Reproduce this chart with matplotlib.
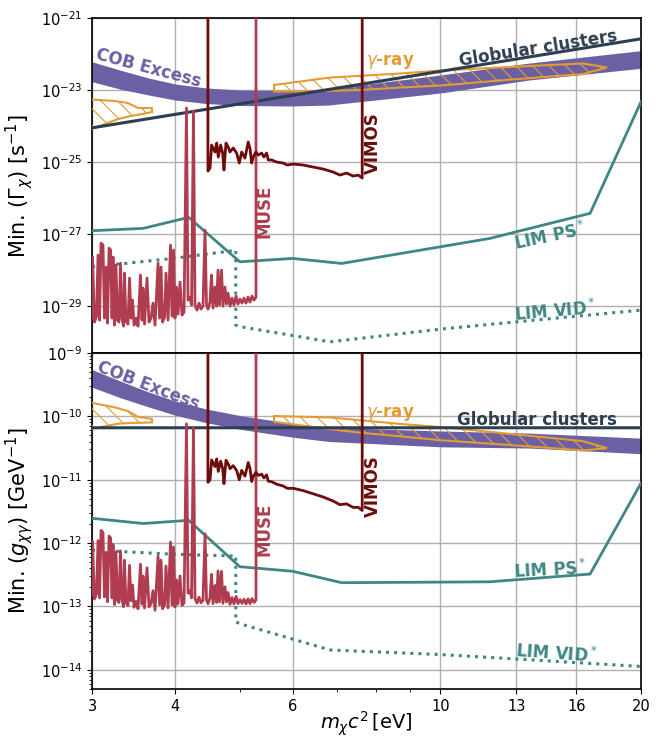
import numpy as np
import matplotlib
matplotlib.use("Agg")
import matplotlib.pyplot as plt
from matplotlib.patches import Polygon
from matplotlib.ticker import NullFormatter, NullLocator

HBAR = 6.582e-16  # eV s
plt.rcParams["hatch.linewidth"] = 0.8

# ── data: decay rate Gamma [1/s] against mass m c^2 [eV] ───────────────
cob_mass = [3.0, 3.3, 3.65, 4.0, 4.45, 5.0, 6.0, 6.8, 10.0, 13.6, 20.0]
cob_high = [6.1e-23, 3.6e-23, 2.15e-23, 1.47e-23, 1.14e-23, 1.0e-23,
            9.7e-24, 1.07e-23, 2.61e-23, 5.62e-23, 1.24e-22]
cob_low = [1.70e-23, 1.07e-23, 7.26e-24, 5.27e-24, 4.22e-24, 3.71e-24,
           3.60e-24, 3.83e-24, 8.26e-24, 1.90e-23, 4.01e-23]

gc_mass = [3.0, 20.0]
gc_rate = [8.9e-25, 2.64e-22]

gray_left_mass = [2.928, 3.084, 3.248, 3.397, 3.517, 3.691, 3.691, 3.566,
                  3.433, 3.281, 3.138, 3.0, 2.928]
gray_left_rate = [5.62e-24, 5.27e-24, 4.95e-24, 4.35e-24, 3.16e-24, 3.16e-24,
                  2.45e-24, 2.15e-24, 1.9e-24, 1.56e-24, 1.14e-24, 8.26e-25,
                  7.26e-25]
gray_right_mass = [5.627, 6.828, 8.696, 10.0, 12.29, 14.60, 16.37, 17.78,
                   16.37, 14.60, 12.29, 10.0, 8.696, 7.574, 6.596, 5.627]
gray_right_rate = [1.38e-23, 2.22e-23, 2.87e-23, 3.48e-23, 4.22e-23, 4.95e-23,
                   5.45e-23, 4.22e-23, 2.78e-23, 2.37e-23, 1.84e-23, 1.33e-23,
                   1.17e-23, 1.0e-23, 9.38e-24, 9.1e-24]

lim_ps_mass = [3.0, 3.58, 4.19, 5.0, 6.0, 7.11, 10.0, 11.87, 14.26, 16.77, 20.0]
lim_ps_rate = [1.24e-27, 1.44e-27, 2.91e-27, 1.70e-28, 2.11e-28, 1.53e-28,
               4.44e-28, 7.6e-28, 1.78e-27, 3.76e-27, 4.73e-24]

lim_vid_mass = [3.0, 3.36, 3.97, 4.83, 4.93, 4.93, 5.0, 6.83, 10.0, 13.0, 20.0]
lim_vid_rate = [1.24e-28, 1.53e-28, 2.11e-28, 3.37e-28, 3.6e-28, 2.97e-30,
                2.7e-30, 1.02e-30, 2.3e-30, 3.66e-30, 7.74e-30]

muse_mass = [3.000, 3.005, 3.026, 3.047, 3.063, 3.079, 3.095, 3.116, 3.132, 3.149,
             3.165, 3.182, 3.199, 3.215, 3.226, 3.243, 3.259, 3.276, 3.293, 3.310,
             3.327, 3.345, 3.356, 3.373, 3.397, 3.415, 3.433, 3.451, 3.469, 3.493,
             3.517, 3.547, 3.566, 3.578, 3.597, 3.628, 3.653, 3.679, 3.704, 3.730,
             3.769, 3.789, 3.808, 3.828, 3.855, 3.874, 3.901, 3.935, 3.955, 3.976,
             3.996, 4.017, 4.038, 4.066, 4.094, 4.123, 4.158, 4.180, 4.209, 4.231,
             4.260, 4.282, 4.312, 4.342, 4.372, 4.402, 4.433, 4.456, 4.479, 4.510,
             4.534, 4.557, 4.589, 4.613, 4.637, 4.661, 4.693, 4.717, 4.750, 4.775,
             4.800, 4.833, 4.866, 4.900, 4.934, 4.968, 5.003, 5.037, 5.072, 5.108,
             5.143, 5.179, 5.214, 5.251, 5.287, 5.287]
muse_rate = [4.64e-30, 2.3e-28, 3.6e-30, 5.27e-30, 2.61e-28, 4.08e-30, 5.62e-28, 4.95e-28, 4.64e-30, 1.21e-28,
             3.37e-30, 4.08e-28, 3.6e-28, 4.64e-30, 2.30e-28, 2.97e-30, 1.38e-28, 4.08e-30, 3.6e-30, 1.56e-28,
             4.64e-30, 2.78e-30, 8.26e-29, 3.83e-30, 3.16e-30, 6.0e-29, 4.64e-30, 1.47e-29, 2.97e-30, 4.64e-30,
             2.78e-30, 7.26e-29, 4.08e-30, 3.16e-29, 3.16e-30, 6.0e-29, 3.6e-30, 4.64e-30, 1.21e-29, 2.97e-30,
             1.56e-28, 4.64e-30, 1.21e-28, 3.6e-30, 4.95e-30, 8.26e-29, 4.08e-30, 4.95e-28, 5.27e-30, 3.6e-28,
             4.64e-30, 3.37e-29, 6.0e-30, 4.64e-29, 5.62e-30, 6.81e-30, 3.16e-24, 1.47e-29, 1.78e-29, 1.07e-29,
             2.61e-24, 1.07e-29, 7.74e-30, 1.21e-29, 8.26e-30, 1.0e-29, 1.29e-27, 1.07e-29, 8.26e-30, 1.29e-29,
             7.26e-29, 8.8e-30, 3.37e-29, 1.0e-29, 1.0e-28, 1.07e-29, 1.0e-28, 1.0e-29, 3.37e-29, 1.14e-29,
             2.3e-29, 1.0e-29, 1.67e-29, 1.07e-29, 1.9e-29, 1.14e-29, 1.56e-29, 1.21e-29, 1.67e-29, 1.21e-29,
             1.78e-29, 1.29e-29, 1.9e-29, 1.47e-29, 1.78e-29, 1e-15]

vimos_mass = [4.478, 4.478, 4.510, 4.536, 4.588, 4.615, 4.641, 4.679, 4.712, 4.733,
              4.766, 4.804, 4.832, 4.887, 4.945, 4.990, 5.031, 5.089, 5.147, 5.178,
              5.208, 5.237, 5.286, 5.328, 5.391, 5.434, 5.485, 5.515, 5.581, 5.678,
              5.809, 5.889, 6.013, 6.224, 6.443, 6.669, 6.904, 7.065, 7.231, 7.397,
              7.526, 7.631, 7.631]
vimos_rate = [1e-15, 5.62e-26, 6.81e-26, 2.97e-25, 1.90e-25, 3.37e-25, 1.38e-25, 2.97e-25, 1.78e-25, 6.0e-26,
              3.37e-25, 2.61e-25, 1.90e-25, 2.45e-25, 1.78e-25, 9.38e-26, 1.90e-25, 1.29e-25, 3.6e-25, 2.45e-25,
              9.38e-26, 1.38e-25, 1.90e-25, 1.56e-25, 1.78e-25, 1.38e-25, 1.78e-25, 1.14e-25, 1.14e-25, 1.0e-25,
              9.38e-26, 8.26e-26, 8.8e-26, 8.26e-26, 7.26e-26, 6.39e-26, 5.27e-26, 4.35e-26, 4.95e-26, 4.08e-26,
              4.35e-26, 3.6e-26, 1e-15]

mass_ticks = [3, 4, 6, 10, 13, 16, 20]
rate_ticks = [1e-29, 1e-27, 1e-25, 1e-23, 1e-21]
coupling_ticks = [1e-14, 1e-13, 1e-12, 1e-11, 1e-10, 1e-9]

COB = "#6b60a4"
GC = "#2c3e50"
GRAY = "#e39b34"
LIM = "#3e8784"
MUSE = "#b03c50"
VIMOS = "#6e0b0b"


def to_coupling(rate, mass):
    # Gamma = g^2 m^3 / (64 pi)  ->  g in GeV^-1
    rate = np.asarray(rate) * HBAR
    return np.sqrt(64 * np.pi * rate / np.asarray(mass) ** 3) * 1e9


def draw(ax, coupling):
    f = (lambda m, r: to_coupling(r, m)) if coupling else (lambda m, r: np.asarray(r))

    ax.fill_between(cob_mass, f(cob_mass, cob_low), f(cob_mass, cob_high),
                    color=COB, lw=0, zorder=2)
    for m, r in ((gray_left_mass, gray_left_rate), (gray_right_mass, gray_right_rate)):
        ax.add_patch(Polygon(np.column_stack([m, f(m, r)]), closed=True, fill=False,
                             edgecolor=GRAY, hatch="\\\\", lw=1.5, zorder=3))
    ax.plot(gc_mass, f(gc_mass, gc_rate), color=GC, lw=2.2, zorder=4)
    ax.plot(lim_ps_mass, f(lim_ps_mass, lim_ps_rate), color=LIM, lw=2, zorder=4)
    ax.plot(lim_vid_mass, f(lim_vid_mass, lim_vid_rate), color=LIM, lw=2.2,
            ls=":", zorder=4)
    ax.plot(muse_mass, f(muse_mass, muse_rate), color=MUSE, lw=2, zorder=5)
    ax.plot(vimos_mass, f(vimos_mass, vimos_rate), color=VIMOS, lw=2, zorder=6)

    ax.set_xscale("log")
    ax.set_yscale("log")
    ax.set_xlim(3, 20)
    ax.grid(True, which="major", color="#b0b0b0", lw=1)
    for s in ax.spines.values():
        s.set_linewidth(1.2)
    ax.tick_params(labelsize=10.5)


fig = plt.figure(figsize=(6.61, 7.4), dpi=100)
ax1 = fig.add_axes([0.1392, 0.523, 0.8306, 0.4527])
ax2 = fig.add_axes([0.1392, 0.069, 0.8306, 0.454])

draw(ax1, False)
draw(ax2, True)

ax1.set_ylim(5e-31, 1e-21)
ax1.set_yticks(rate_ticks)
ax1.yaxis.set_minor_locator(NullLocator())
ax2.set_ylim(5e-15, 1e-9)
ax2.set_yticks(coupling_ticks)

for ax in (ax1, ax2):
    ax.set_xticks(mass_ticks)
    ax.set_xticklabels([str(t) for t in mass_ticks])
    ax.xaxis.set_minor_formatter(NullFormatter())
ax1.tick_params(labelbottom=False)

ax1.set_ylabel(r"Min. $(\Gamma_\chi)$ [s$^{-1}$]", fontsize=15)
ax2.set_ylabel(r"Min. $(g_{\chi\gamma})$ [GeV$^{-1}$]", fontsize=15)
ax2.set_xlabel(r"$m_\chi c^2\,$[eV]", fontsize=14, labelpad=-3)

kw = dict(fontsize=12, fontweight="bold", ha="center", va="center")
ax1.text(0.102, 0.851, "COB Excess", color=COB, rotation=-15, transform=ax1.transAxes, **kw)
ax1.text(0.812, 0.910, "Globular clusters", color=GC, rotation=9, transform=ax1.transAxes, **kw)
ax1.text(0.543, 0.869, r"$\gamma$-ray", color=GRAY, transform=ax1.transAxes, **kw)
ax1.text(0.512, 0.627, "VIMOS", color=VIMOS, rotation=90, transform=ax1.transAxes, **kw)
ax1.text(0.315, 0.424, "MUSE", color=MUSE, rotation=90, transform=ax1.transAxes, **kw)
ax1.text(0.834, 0.349, r"LIM PS$^*$", color=LIM, rotation=12, transform=ax1.transAxes, **kw)
ax1.text(0.843, 0.125, r"LIM VID$^*$", color=LIM, rotation=5, transform=ax1.transAxes, **kw)

ax2.text(0.102, 0.904, "COB Excess", color=COB, rotation=-21, transform=ax2.transAxes, **kw)
ax2.text(0.811, 0.800, "Globular clusters", color=GC, transform=ax2.transAxes, **kw)
ax2.text(0.543, 0.821, r"$\gamma$-ray", color=GRAY, transform=ax2.transAxes, **kw)
ax2.text(0.512, 0.603, "VIMOS", color=VIMOS, rotation=90, transform=ax2.transAxes, **kw)
ax2.text(0.315, 0.475, "MUSE", color=MUSE, rotation=90, transform=ax2.transAxes, **kw)
ax2.text(0.834, 0.355, r"LIM PS$^*$", color=LIM, rotation=3, transform=ax2.transAxes, **kw)
ax2.text(0.845, 0.104, r"LIM VID$^*$", color=LIM, rotation=-4, transform=ax2.transAxes, **kw)

fig.savefig("out.png", dpi=100)
